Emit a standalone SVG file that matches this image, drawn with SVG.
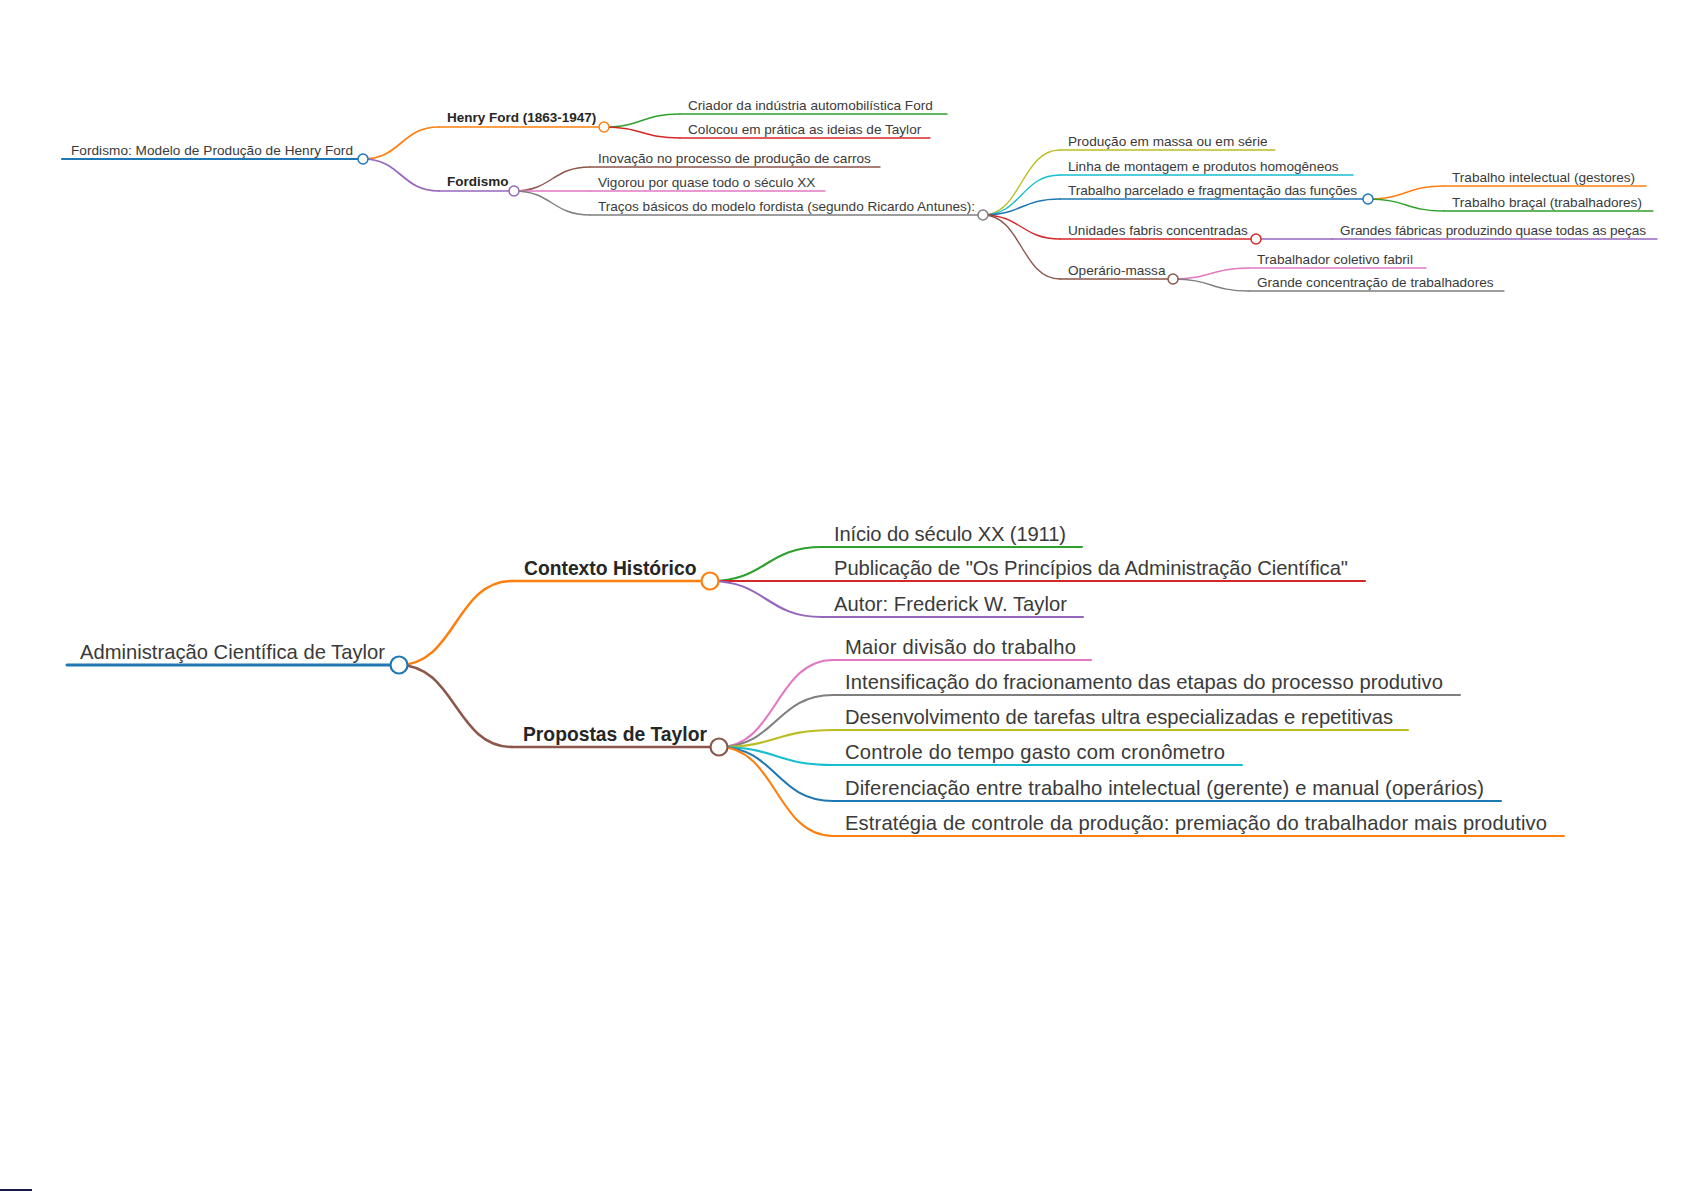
<svg xmlns="http://www.w3.org/2000/svg" width="1685" height="1192" viewBox="0 0 1685 1192">
<style>
text{font-family:"Liberation Sans",Arial,sans-serif;fill:#3a3a3a}
.s{font-size:13.6px}
.sb{font-size:13.5px;font-weight:bold;fill:#262626}
.b{font-size:20.2px}
.bb{font-size:19.3px;font-weight:bold;fill:#262626}
path,line{fill:none;stroke-linecap:round}
circle{fill:#fff}
.t0{stroke-width:2.2}.t1{stroke-width:1.7}.t2{stroke-width:1.4}
.B0{stroke-width:3}.B1{stroke-width:2.5}.B2{stroke-width:2.1}
.ct{stroke-width:1.5}.cB{stroke-width:2.2}
.blue{stroke:#1f77b4}.orange{stroke:#ff7f0e}.green{stroke:#2ca02c}.red{stroke:#d62728}.purple{stroke:#9467bd}
.brown{stroke:#8c564b}.pink{stroke:#e377c2}.gray{stroke:#7f7f7f}.olive{stroke:#bcbd22}.cyan{stroke:#17becf}
</style>
<rect width="1685" height="1192" fill="#fff"/>
<g id="connectors">
<path class="t1 orange" d="M363,159 C401,159 401,127 439,127"/>
<path class="t1 purple" d="M363,159 C401,159 401,191 439,191"/>
<path class="t2 green" d="M604,127 C642,127 642,114 680,114"/>
<path class="t2 red" d="M604,127 C642,127 642,138 680,138"/>
<path class="t2 brown" d="M514,191 C552,191 552,167 590,167"/>
<path class="t2 pink" d="M514,191 L590,191"/>
<path class="t2 gray" d="M514,191 C552,191 552,215 590,215"/>
<path class="t2 olive" d="M983,215 C1021.5,215 1021.5,150 1060,150"/>
<path class="t2 cyan" d="M983,215 C1021.5,215 1021.5,175 1060,175"/>
<path class="t2 blue" d="M983,215 C1021.5,215 1021.5,199 1060,199"/>
<path class="t2 red" d="M983,215 C1021.5,215 1021.5,239 1060,239"/>
<path class="t2 brown" d="M983,215 C1021.5,215 1021.5,279 1060,279"/>
<path class="t2 orange" d="M1368,199 C1406,199 1406,186 1444,186"/>
<path class="t2 green" d="M1368,199 C1406,199 1406,211 1444,211"/>
<path class="t2 purple" d="M1256,239 L1332,239"/>
<path class="t2 pink" d="M1173,279 C1211,279 1211,268 1249,268"/>
<path class="t2 gray" d="M1173,279 C1211,279 1211,291 1249,291"/>
<path class="B1 orange" d="M399,665 C455.5,665 455.5,581 512,581"/>
<path class="B1 brown" d="M399,665 C455.5,665 455.5,747 512,747"/>
<path class="B2 green" d="M710,581 C766,581 766,547 822,547"/>
<path class="B2 red" d="M710,581 L822,581"/>
<path class="B2 purple" d="M710,581 C766,581 766,617 822,617"/>
<path class="B2 pink" d="M719,747 C776,747 776,660 833,660"/>
<path class="B2 gray" d="M719,747 C776,747 776,695 833,695"/>
<path class="B2 olive" d="M719,747 C776,747 776,730 833,730"/>
<path class="B2 cyan" d="M719,747 C776,747 776,765 833,765"/>
<path class="B2 blue" d="M719,747 C776,747 776,801 833,801"/>
<path class="B2 orange" d="M719,747 C776,747 776,836 833,836"/>
</g>

<g id="n-fordismo-root"><line class="t0 blue" x1="62" y1="159" x2="363" y2="159"/><circle class="ct blue" cx="363" cy="159" r="5"/><text class="s" x="71" y="154.5" textLength="282">Fordismo: Modelo de Produção de Henry Ford</text></g>
<g id="n-henry-ford"><line class="t1 orange" x1="439" y1="127" x2="604" y2="127"/><circle class="ct orange" cx="604" cy="127" r="5"/><text class="sb" x="447" y="122">Henry Ford (1863-1947)</text></g>
<g id="n-fordismo"><line class="t1 purple" x1="439" y1="191" x2="514" y2="191"/><circle class="ct purple" cx="514" cy="191" r="5"/><text class="sb" x="447" y="186">Fordismo</text></g>
<g id="n-criador"><line class="t2 green" x1="680" y1="114" x2="947" y2="114"/><text class="s" x="688" y="109.5">Criador da indústria automobilística Ford</text></g>
<g id="n-colocou"><line class="t2 red" x1="680" y1="138" x2="930" y2="138"/><text class="s" x="688" y="133.5">Colocou em prática as ideias de Taylor</text></g>
<g id="n-inovacao"><line class="t2 brown" x1="590" y1="167" x2="880" y2="167"/><text class="s" x="598" y="162.5">Inovação no processo de produção de carros</text></g>
<g id="n-vigorou"><line class="t2 pink" x1="590" y1="191" x2="825" y2="191"/><text class="s" x="598" y="186.5">Vigorou por quase todo o século XX</text></g>
<g id="n-tracos"><line class="t2 gray" x1="590" y1="215" x2="983" y2="215"/><circle class="ct gray" cx="983" cy="215" r="5"/><text class="s" x="598" y="210.5" textLength="377">Traços básicos do modelo fordista (segundo Ricardo Antunes):</text></g>
<g id="n-producao-massa"><line class="t2 olive" x1="1060" y1="150" x2="1275" y2="150"/><text class="s" x="1068" y="145.5">Produção em massa ou em série</text></g>
<g id="n-linha"><line class="t2 cyan" x1="1060" y1="175" x2="1353" y2="175"/><text class="s" x="1068" y="170.5">Linha de montagem e produtos homogêneos</text></g>
<g id="n-trabalho-parcelado"><line class="t2 blue" x1="1060" y1="199" x2="1368" y2="199"/><circle class="ct blue" cx="1368" cy="199" r="5"/><text class="s" x="1068" y="194.5" textLength="289">Trabalho parcelado e fragmentação das funções</text></g>
<g id="n-unidades"><line class="t2 red" x1="1060" y1="239" x2="1256" y2="239"/><circle class="ct red" cx="1256" cy="239" r="5"/><text class="s" x="1068" y="234.5">Unidades fabris concentradas</text></g>
<g id="n-operario"><line class="t2 brown" x1="1060" y1="279" x2="1173" y2="279"/><circle class="ct brown" cx="1173" cy="279" r="5"/><text class="s" x="1068" y="274.5">Operário-massa</text></g>
<g id="n-intelectual"><line class="t2 orange" x1="1444" y1="186" x2="1646" y2="186"/><text class="s" x="1452" y="181.5">Trabalho intelectual (gestores)</text></g>
<g id="n-bracal"><line class="t2 green" x1="1444" y1="211" x2="1653" y2="211"/><text class="s" x="1452" y="206.5">Trabalho braçal (trabalhadores)</text></g>
<g id="n-grandes-fabricas"><line class="t2 purple" x1="1332" y1="239" x2="1657" y2="239"/><text class="s" x="1340" y="234.5" textLength="306">Grandes fábricas produzindo quase todas as peças</text></g>
<g id="n-coletivo"><line class="t2 pink" x1="1249" y1="268" x2="1426" y2="268"/><text class="s" x="1257" y="263.5">Trabalhador coletivo fabril</text></g>
<g id="n-concentracao"><line class="t2 gray" x1="1249" y1="291" x2="1504" y2="291"/><text class="s" x="1257" y="286.5">Grande concentração de trabalhadores</text></g>

<g id="n-admin-root"><line class="B0 blue" x1="67" y1="665" x2="399" y2="665"/><circle class="cB blue" cx="399" cy="665" r="8.5"/><text class="b" x="80" y="658.5" textLength="305">Administração Científica de Taylor</text></g>
<g id="n-contexto"><line class="B1 orange" x1="512" y1="581" x2="710" y2="581"/><circle class="cB orange" cx="710" cy="581" r="8.5"/><text class="bb" x="524" y="575">Contexto Histórico</text></g>
<g id="n-propostas"><line class="B1 brown" x1="512" y1="747" x2="719" y2="747"/><circle class="cB brown" cx="719" cy="747" r="8.5"/><text class="bb" x="523" y="741">Propostas de Taylor</text></g>
<g id="n-inicio"><line class="B2 green" x1="822" y1="547" x2="1082" y2="547"/><text class="b" x="834" y="540.5" textLength="232">Início do século XX (1911)</text></g>
<g id="n-publicacao"><line class="B2 red" x1="822" y1="581" x2="1365" y2="581"/><text class="b" x="834" y="574.5" textLength="514">Publicação de "Os Princípios da Administração Científica"</text></g>
<g id="n-autor"><line class="B2 purple" x1="822" y1="617" x2="1083" y2="617"/><text class="b" x="834" y="610.5" textLength="233">Autor: Frederick W. Taylor</text></g>
<g id="n-maior"><line class="B2 pink" x1="833" y1="660" x2="1091" y2="660"/><text class="b" x="845" y="653.5" textLength="231">Maior divisão do trabalho</text></g>
<g id="n-intensificacao"><line class="B2 gray" x1="833" y1="695" x2="1460" y2="695"/><text class="b" x="845" y="688.5" textLength="598">Intensificação do fracionamento das etapas do processo produtivo</text></g>
<g id="n-desenvolvimento"><line class="B2 olive" x1="833" y1="730" x2="1408" y2="730"/><text class="b" x="845" y="723.5" textLength="548">Desenvolvimento de tarefas ultra especializadas e repetitivas</text></g>
<g id="n-controle"><line class="B2 cyan" x1="833" y1="765" x2="1242" y2="765"/><text class="b" x="845" y="758.5" textLength="380">Controle do tempo gasto com cronômetro</text></g>
<g id="n-diferenciacao"><line class="B2 blue" x1="833" y1="801" x2="1501" y2="801"/><text class="b" x="845" y="794.5" textLength="639">Diferenciação entre trabalho intelectual (gerente) e manual (operários)</text></g>
<g id="n-estrategia"><line class="B2 orange" x1="833" y1="836" x2="1564" y2="836"/><text class="b" x="845" y="829.5" textLength="702">Estratégia de controle da produção: premiação do trabalhador mais produtivo</text></g>

<rect x="0" y="1189" width="32" height="2" fill="#1a1a4a"/>
</svg>
